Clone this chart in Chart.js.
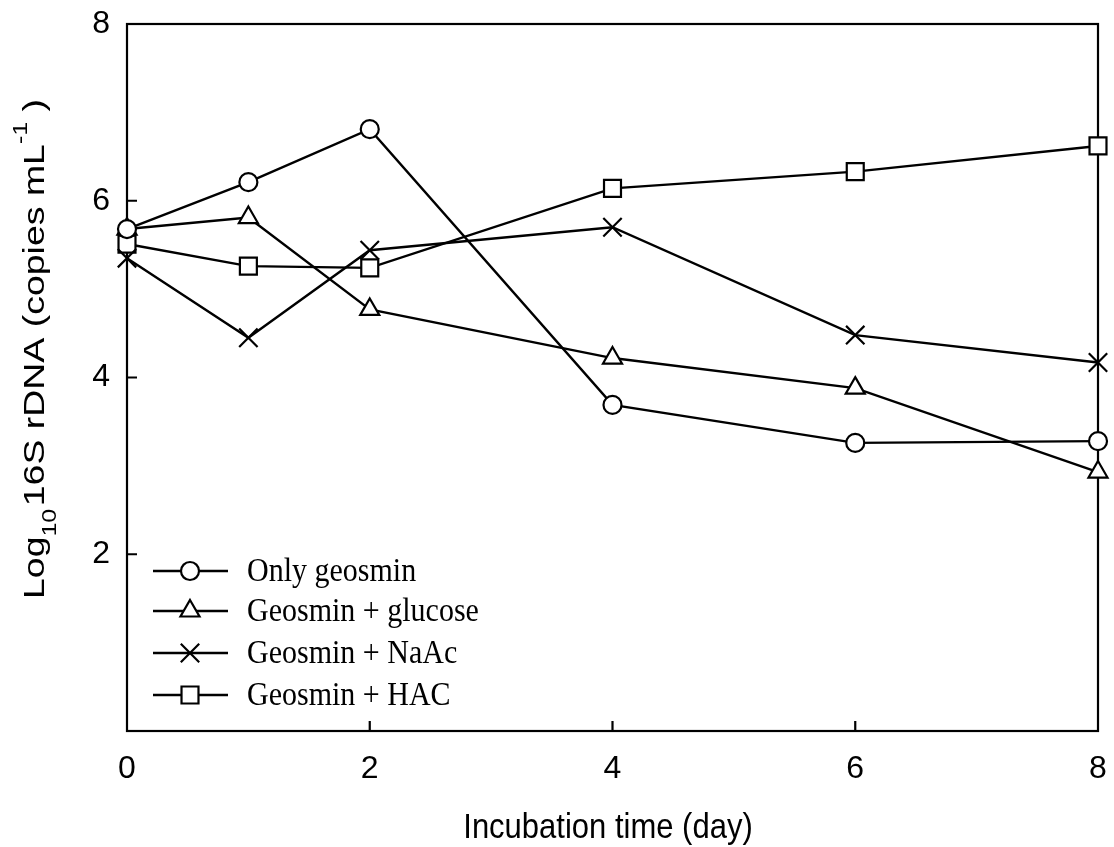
<!DOCTYPE html>
<html>
<head>
<meta charset="utf-8">
<script src="https://cdn.jsdelivr.net/npm/chart.js@4/dist/chart.umd.min.js"></script>
<style>
  html, body { margin: 0; padding: 0; background: #fff; }
  #wrap { width: 1114px; height: 847px; }
</style>
</head>
<body>
<div id="wrap"><canvas id="c" width="1114" height="847"></canvas></div>
<script>
// ---- data ----
const days = [0, 1, 2, 4, 6, 8];
const seriesNames = ['Only geosmin', 'Geosmin + glucose', 'Geosmin + NaAc', 'Geosmin + HAC'];
const onlyGeosmin = [5.68, 6.21, 6.81, 3.69, 3.26, 3.28];
const geosminGlucose = [5.68, 5.81, 4.77, 4.22, 3.88, 2.93];
const geosminNaAc = [5.35, 4.45, 5.44, 5.70, 4.48, 4.17];
const geosminHAC = [5.51, 5.26, 5.24, 6.14, 6.33, 6.62];
const xTicks = [0, 2, 4, 6, 8];
const yTicks = [2, 4, 6, 8];
const innerTicks = [2, 4, 6];

const pointStyles = ['circle', 'triangle', 'crossRot', 'rect'];
const pointRadii = [9, 11, 13, 12];
const allSeries = [onlyGeosmin, geosminGlucose, geosminNaAc, geosminHAC];

const datasets = allSeries.map((vals, i) => ({
  label: seriesNames[i],
  data: days.map((d, j) => ({ x: d, y: vals[j] })),
  borderColor: '#000',
  backgroundColor: '#fff',
  borderWidth: 2.4,
  pointStyle: pointStyles[i],
  pointRadius: pointRadii[i],
  pointBorderWidth: 2.2,
  pointBackgroundColor: '#fff',
  pointBorderColor: '#000',
  tension: 0,
  fill: false,
  clip: false
}));

const SANS = '"Liberation Sans", Arial, sans-serif';
const SERIF = '"Liberation Serif", "Times New Roman", serif';

function drawMarker(ctx, style, r, x, y) {
  ctx.save();
  ctx.lineWidth = 2.2;
  ctx.strokeStyle = '#000';
  ctx.fillStyle = '#fff';
  ctx.beginPath();
  if (style === 'circle') {
    ctx.arc(x, y, r, 0, Math.PI * 2);
    ctx.fill(); ctx.stroke();
  } else if (style === 'triangle') {
    ctx.moveTo(x, y - r);
    ctx.lineTo(x + r * Math.sin(Math.PI / 3), y + r / 2);
    ctx.lineTo(x - r * Math.sin(Math.PI / 3), y + r / 2);
    ctx.closePath();
    ctx.fill(); ctx.stroke();
  } else if (style === 'crossRot') {
    const o = r * Math.SQRT1_2;
    ctx.moveTo(x - o, y - o); ctx.lineTo(x + o, y + o);
    ctx.moveTo(x - o, y + o); ctx.lineTo(x + o, y - o);
    ctx.stroke();
  } else if (style === 'rect') {
    const s = r * Math.SQRT1_2;
    ctx.rect(x - s, y - s, 2 * s, 2 * s);
    ctx.fill(); ctx.stroke();
  }
  ctx.restore();
}

const framePlugin = {
  id: 'frame',
  beforeDatasetsDraw(chart) {
    const { ctx, chartArea: a, scales } = chart;
    ctx.save();
    ctx.strokeStyle = '#000';
    ctx.lineWidth = 2.2;
    ctx.strokeRect(a.left, a.top, a.right - a.left, a.bottom - a.top);
    ctx.beginPath();
    innerTicks.forEach(v => {
      const px = scales.x.getPixelForValue(v);
      ctx.moveTo(px, a.bottom); ctx.lineTo(px, a.bottom - 10);
      const py = scales.y.getPixelForValue(v);
      ctx.moveTo(a.left, py); ctx.lineTo(a.left + 10, py);
    });
    ctx.stroke();
    ctx.restore();
  },
  afterDraw(chart) {
    const { ctx } = chart;
    // legend
    ctx.save();
    const rowY = [571, 611, 653, 695];
    seriesNames.forEach((name, i) => {
      const y = rowY[i];
      ctx.strokeStyle = '#000';
      ctx.lineWidth = 2.4;
      ctx.beginPath();
      ctx.moveTo(153, y); ctx.lineTo(228, y);
      ctx.stroke();
      drawMarker(ctx, pointStyles[i], pointRadii[i], 190, y);
      ctx.save();
      ctx.fillStyle = '#000';
      ctx.font = '30px ' + SERIF;
      ctx.textBaseline = 'middle';
      ctx.translate(247, y + 1);
      ctx.scale(1, 1.12);
      ctx.fillText(name, 0, 0);
      ctx.restore();
    });
    ctx.restore();

    // x title
    ctx.save();
    ctx.fillStyle = '#000';
    ctx.font = '31px ' + SANS;
    ctx.textAlign = 'center';
    ctx.textBaseline = 'alphabetic';
    ctx.translate(608, 838);
    ctx.scale(1, 1.15);
    ctx.fillText('Incubation time (day)', 0, 0);
    ctx.restore();

    // y title (rotated, with sub/superscript)
    ctx.save();
    ctx.fillStyle = '#000';
    const parts = [
      { t: 'Log', f: 30, dy: 0 },
      { t: '10', f: 20, dy: 12 },
      { t: '16S rDNA (copies mL', f: 30, dy: 0, gap: 2 },
      { t: '-1', f: 20, dy: -17 },
      { t: ' )', f: 30, dy: 0 }
    ];
    let total = 0;
    parts.forEach(p => {
      ctx.font = p.f + 'px ' + SANS;
      p.w = ctx.measureText(p.t).width;
      total += p.w + (p.gap || 0);
    });
    const target = 500;
    const sx = target / total;
    ctx.translate(44, 349);
    ctx.rotate(-Math.PI / 2);
    ctx.scale(sx, 1);
    let cx = -total / 2;
    ctx.textBaseline = 'alphabetic';
    parts.forEach(p => {
      cx += (p.gap || 0);
      ctx.font = p.f + 'px ' + SANS;
      ctx.fillText(p.t, cx, p.dy);
      cx += p.w;
    });
    ctx.restore();
  }
};

new Chart(document.getElementById('c'), {
  type: 'line',
  data: { datasets },
  options: {
    responsive: false,
    animation: false,
    devicePixelRatio: 1,
    layout: { autoPadding: false, padding: { top: 24, right: 16, left: 0, bottom: 0 } },
    plugins: { legend: { display: false }, tooltip: { enabled: false }, title: { display: false } },
    scales: {
      x: {
        type: 'linear',
        min: 0, max: 8,
        afterBuildTicks: s => { s.ticks = xTicks.map(v => ({ value: v })); },
        ticks: { color: '#000', font: { family: SANS, size: 32 }, padding: 19, maxRotation: 0, autoSkip: false },
        grid: { display: false, drawTicks: false },
        border: { display: false },
        afterFit: s => { s.height = 116; s.paddingLeft = 0; s.paddingRight = 0; s.paddingTop = 0; s.paddingBottom = 0; }
      },
      y: {
        type: 'linear',
        min: 0, max: 8,
        afterBuildTicks: s => { s.ticks = yTicks.map(v => ({ value: v })); },
        ticks: { color: '#000', font: { family: SANS, size: 32 }, padding: 17, autoSkip: false },
        grid: { display: false, drawTicks: false },
        border: { display: false },
        afterFit: s => { s.width = 127; s.paddingLeft = 0; s.paddingRight = 0; s.paddingTop = 0; s.paddingBottom = 0; }
      }
    }
  },
  plugins: [framePlugin]
});
</script>
</body>
</html>
